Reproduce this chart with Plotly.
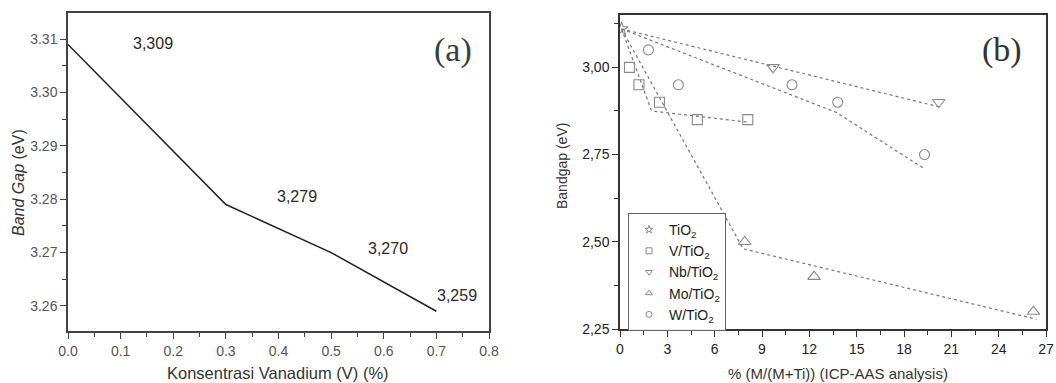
import plotly.graph_objects as go

# ---- Panel (a): band gap vs vanadium concentration ----
conc_a = [0.0, 0.3, 0.5, 0.7]
bandgap_a = [3.309, 3.279, 3.270, 3.259]
# pixel offsets of the value labels from their points
label_shift_x = [85, 71, 57, 21]
label_shift_y = [1, 8, 4, 16]

# ---- Panel (b): band gap vs metal content ----
tio2_x = [0.1]
tio2_y = [3.11]
v_x = [0.6, 1.2, 2.5, 4.9, 8.1]
v_y = [3.00, 2.95, 2.90, 2.85, 2.85]
nb_x = [9.7, 20.2]
nb_y = [3.00, 2.90]
mo_x = [7.9, 12.3, 26.2]
mo_y = [2.50, 2.40, 2.30]
w_x = [1.8, 3.7, 10.9, 13.8, 19.3]
w_y = [3.05, 2.95, 2.95, 2.90, 2.75]

# dotted guide lines
v_trend_x = [0.1, 2.0, 8.1]
v_trend_y = [3.11, 2.875, 2.843]
nb_trend_x = [0.1, 20.3]
nb_trend_y = [3.11, 2.886]
mo_trend_x = [0.1, 7.8, 26.4]
mo_trend_y = [3.11, 2.48, 2.278]
w_trend_x = [0.1, 13.7, 19.3]
w_trend_y = [3.11, 2.871, 2.709]

b_yticks = [2.25, 2.50, 2.75, 3.00]
b_xticks = list(range(0, 28, 3))

FONT = "Liberation Sans, Arial, sans-serif"
SERIF = "Liberation Serif, Times New Roman, serif"
GREY = "#8a8a8a"
W, H = 1056, 383

fig = go.Figure()

fig.add_trace(go.Scatter(
    x=conc_a, y=bandgap_a, mode="lines",
    line=dict(color="#222222", width=1.5),
    xaxis="x", yaxis="y", showlegend=False, hoverinfo="skip"))

for tx, ty in [(v_trend_x, v_trend_y), (nb_trend_x, nb_trend_y),
               (mo_trend_x, mo_trend_y), (w_trend_x, w_trend_y)]:
    fig.add_trace(go.Scatter(
        x=tx, y=ty, mode="lines",
        line=dict(color="#777777", width=1.2, dash="dot"),
        xaxis="x2", yaxis="y2", showlegend=False, hoverinfo="skip"))

series = [
    ("TiO<sub>2</sub>", tio2_x, tio2_y, "star-open", 10),
    ("V/TiO<sub>2</sub>", v_x, v_y, "square-open", 10),
    ("Nb/TiO<sub>2</sub>", nb_x, nb_y, "triangle-down-open", 11),
    ("Mo/TiO<sub>2</sub>", mo_x, mo_y, "triangle-up-open", 11),
    ("W/TiO<sub>2</sub>", w_x, w_y, "circle-open", 10),
]
for name, sx, sy, sym, sz in series:
    fig.add_trace(go.Scatter(
        x=sx, y=sy, mode="markers",
        marker=dict(symbol=sym, size=sz, color=GREY, line=dict(width=1.1, color=GREY)),
        xaxis="x2", yaxis="y2", showlegend=False, name=name))
    # small legend entry
    fig.add_trace(go.Scatter(
        x=[None], y=[None], mode="markers", name=name,
        marker=dict(symbol=sym, size=6, color=GREY, line=dict(width=1, color=GREY)),
        xaxis="x2", yaxis="y2", showlegend=True))

# value labels in panel (a)
annotations = []
for xv, yv, dx, dy in zip(conc_a, bandgap_a, label_shift_x, label_shift_y):
    annotations.append(dict(
        x=xv, y=yv, xref="x", yref="y", text=f"{yv:.3f}".replace(".", ","),
        showarrow=False, xshift=dx, yshift=dy, xanchor="center", yanchor="middle",
        font=dict(family=FONT, size=16, color="#2a2a2a")))


def paper_text(px, py, text, size, family=FONT, color="#333333", angle=0):
    return dict(x=px / W, y=1 - py / H, xref="paper", yref="paper", text=text,
                showarrow=False, xanchor="center", yanchor="middle", textangle=angle,
                font=dict(family=family, size=size, color=color))


annotations += [
    paper_text(453, 50, "(a)", 34, SERIF, "#3a3f3c"),
    paper_text(1002, 50, "(b)", 34, SERIF, "#333333"),
    paper_text(18, 183, "<i>Band Gap</i> (eV)", 16, angle=-90),
    paper_text(278, 373, "Konsentrasi Vanadium (V) (%)", 16.5),
    paper_text(562, 166, "Bandgap (eV)", 14, angle=-90),
    paper_text(838, 373, "% (M/(M+Ti)) (ICP-AAS analysis)", 15),
]

axis_common = dict(
    showgrid=False, zeroline=False, showline=True, mirror=True, automargin=False,
    linewidth=1.5, ticks="outside", ticklen=6, tickwidth=1.2,
)

fig.update_layout(
    width=W, height=H,
    margin=dict(l=0, r=0, t=0, b=0, pad=0, autoexpand=False),
    paper_bgcolor="white", plot_bgcolor="white",
    font=dict(family=FONT, size=14, color="#333333"),
    annotations=annotations,
    xaxis=dict(
        domain=[68 / W, 489 / W], anchor="y", range=[0, 0.8],
        dtick=0.1, tickformat=".1f", linecolor="#444444", tickcolor="#444444",
        tickfont=dict(family=FONT, size=14, color="#555555"),
        minor=dict(dtick=0.05, ticklen=4, tickcolor="#444444", ticks="outside"),
        **axis_common),
    yaxis=dict(
        domain=[1 - 331 / H, 1 - 13 / H], anchor="x", range=[3.2553, 3.3149],
        dtick=0.01, tickformat=".2f", linecolor="#444444", tickcolor="#444444",
        tickfont=dict(family=FONT, size=14, color="#555555"),
        minor=dict(dtick=0.005, ticklen=4, tickcolor="#444444", ticks="outside"),
        **axis_common),
    xaxis2=dict(
        domain=[620 / W, 1046 / W], anchor="y2", range=[0, 27],
        tickvals=b_xticks, linecolor="#333333", tickcolor="#333333",
        tickfont=dict(family=FONT, size=14, color="#222222"),
        minor=dict(dtick=1.5, ticklen=4, tickcolor="#333333", ticks="outside"),
        **axis_common),
    yaxis2=dict(
        domain=[1 - 329 / H, 1 - 15 / H], anchor="x2", range=[2.25, 3.15],
        tickvals=b_yticks, ticktext=[f"{v:.2f}".replace(".", ",") for v in b_yticks],
        linecolor="#333333", tickcolor="#333333",
        tickfont=dict(family=FONT, size=14, color="#222222"),
        minor=dict(dtick=0.125, ticklen=4, tickcolor="#333333", ticks="outside"),
        **axis_common),
    legend=dict(
        x=628 / W, y=1 - 213 / H, xanchor="left", yanchor="top",
        bgcolor="rgba(255,255,255,0.9)", bordercolor="#666666", borderwidth=1,
        font=dict(family=FONT, size=14, color="#222222"),
        itemwidth=30, tracegroupgap=0),
)

fig.write_html("out.html")
